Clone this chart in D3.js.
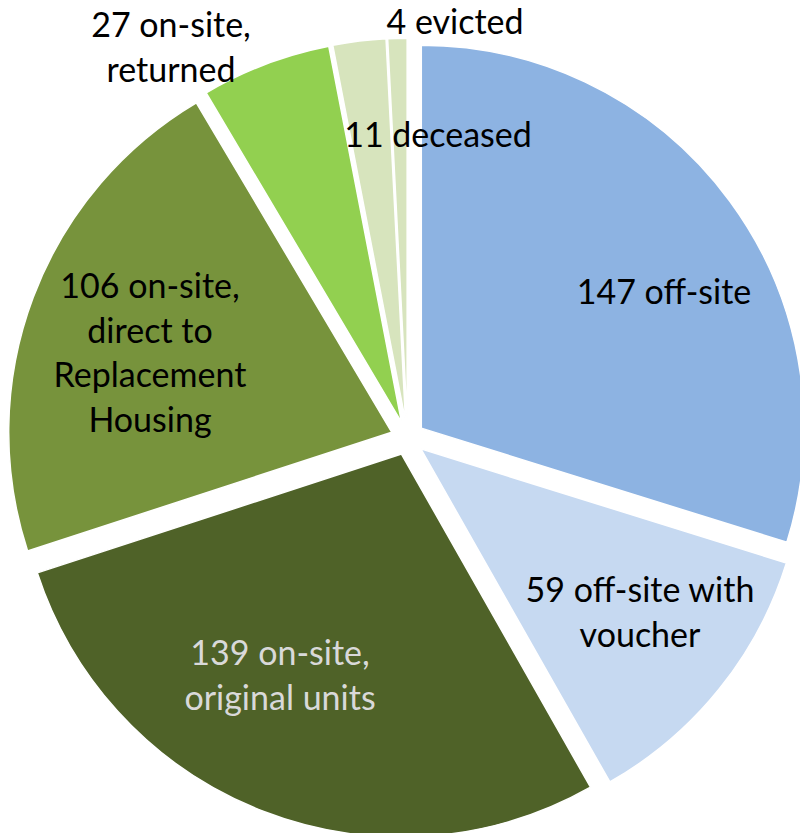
<!DOCTYPE html>
<html>
<head>
<meta charset="utf-8">
<script src="https://cdn.jsdelivr.net/npm/d3@7"></script>
<style>
  html, body { margin: 0; padding: 0; background: #ffffff; }
  svg { display: block; }
</style>
</head>
<body>
<svg id="chart" width="800" height="833"></svg>
<script>
// ---- data ----
const categories = [
  "off-site",
  "off-site with voucher",
  "on-site, original units",
  "on-site, direct to Replacement Housing",
  "on-site, returned",
  "deceased",
  "evicted"
];
const values = [147, 59, 139, 106, 27, 11, 4];
const labelLines = [
  ["147 off-site"],
  ["59 off-site with", "voucher"],
  ["139 on-site,", "original units"],
  ["106 on-site,", "direct to", "Replacement", "Housing"],
  ["27 on-site,", "returned"],
  ["11 deceased"],
  ["4 evicted"]
];

// ---- styling / layout ----
const colors = ["#8DB3E2", "#C6D9F1", "#4F6228", "#77933C", "#92D050", "#D7E4BD", "#D7E4BD"];
const textColors = ["#000", "#000", "#D9D9D9", "#000", "#000", "#000", "#000"];
// label anchor: center x, baseline y of first line
const labelPos = [
  [664, 304], [640, 602], [280, 665], [150, 298], [171, 37], [438, 147], [455, 34]
];
const cx = 407.6, cy = 438.2, R = 383, explode = 17, lineH = 44.5;

const svg = d3.select("#chart");
const pie = d3.pie().sort(null).value(d => d)(values);
const arc = d3.arc().innerRadius(0).outerRadius(R);

const g = svg.append("g").attr("transform", `translate(${cx},${cy})`);
g.selectAll("path.slice")
  .data(pie)
  .join("path")
  .attr("class", "slice")
  .attr("d", arc)
  .attr("fill", (d, i) => colors[i])
  .attr("stroke", "#ffffff")
  .attr("stroke-width", 1.5)
  .attr("stroke-linejoin", "round")
  .attr("transform", d => {
    const a = (d.startAngle + d.endAngle) / 2;
    return `translate(${explode * Math.sin(a)},${-explode * Math.cos(a)})`;
  });

const labels = svg.append("g")
  .attr("font-family", "Lato, 'Open Sans', sans-serif")
  .attr("font-size", 34)
  .attr("text-anchor", "middle");

labelLines.forEach((lines, i) => {
  const t = labels.append("text")
    .attr("x", labelPos[i][0])
    .attr("y", labelPos[i][1])
    .attr("fill", textColors[i]);
  lines.forEach((ln, j) => {
    t.append("tspan")
      .attr("x", labelPos[i][0])
      .attr("y", labelPos[i][1] + j * lineH)
      .text(ln);
  });
});
</script>
</body>
</html>
